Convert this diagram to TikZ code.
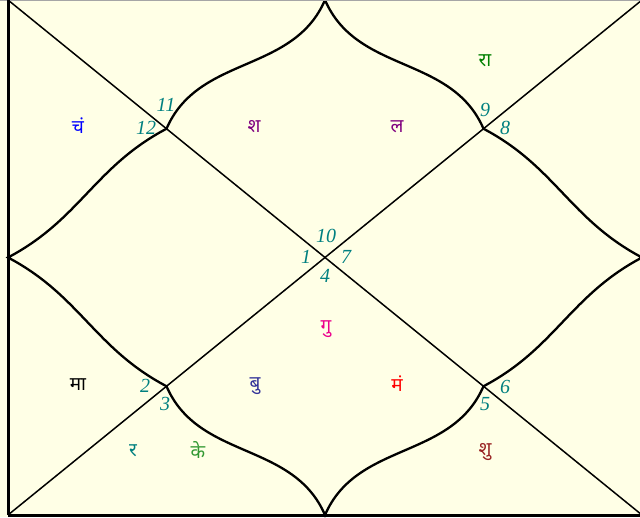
\documentclass[tikz,border=0pt]{standalone}
\usepackage{fontspec}
\setmainfont{Liberation Serif}
\newfontfamily\deva[Script=Devanagari]{Noto Sans}
\usetikzlibrary{calc}
\definecolor{bg}{RGB}{255,255,230}
\definecolor{numc}{RGB}{0,128,128}
\definecolor{purp}{RGB}{128,0,128}
\definecolor{grn}{RGB}{0,128,0}
\definecolor{navyb}{RGB}{51,51,153}
\definecolor{kgreen}{RGB}{51,153,51}
\definecolor{dred}{RGB}{153,34,34}
\tikzset{
  num/.style={font=\fontsize{20}{20}\selectfont\itshape, text=numc, inner sep=0pt},
  graha/.style={font=\deva\fontsize{19}{19}\selectfont, inner sep=0pt},
  curve/.style={line width=2.3pt, black},
  diag/.style={line width=1.5pt, black},
  frame/.style={line width=3pt, black}
}
\begin{document}
\begin{tikzpicture}[x=1pt,y=-1pt]
\useasboundingbox (0,0) rectangle (640,518);
\fill[bg] (0,0) rectangle (640,518);
\fill[white] (0,517) rectangle (640,518);
\begin{scope}
\clip (0,0) rectangle (640,518);
\coordinate (TL) at (8,0);
\coordinate (TR) at (642,0);
\coordinate (BL) at (8,515);
\coordinate (BR) at (642,515);
\coordinate (T) at (325,0);
\coordinate (L) at (8,257.5);
\coordinate (B) at (325,515);
\coordinate (R) at (642,257.5);
\coordinate (Q1) at (166.5,128.75);
\coordinate (Q2) at (483.5,128.75);
\coordinate (Q3) at (166.5,386.25);
\coordinate (Q4) at (483.5,386.25);
% diagonals
\draw[diag] (TL) -- (BR);
\draw[diag] (BL) -- (TR);
% lotus curves
\draw[curve] (Q1) .. controls ($(Q1)+(32,-74)$) and ($(T)+(-32,74)$) .. (T)
  .. controls ($(T)+(32,74)$) and ($(Q2)+(-32,-74)$) .. (Q2)
  .. controls ($(Q2)+(72,38)$) and ($(R)+(-72,-38)$) .. (R)
  .. controls ($(R)+(-72,38)$) and ($(Q4)+(72,-38)$) .. (Q4)
  .. controls ($(Q4)+(-32,74)$) and ($(B)+(32,-74)$) .. (B)
  .. controls ($(B)+(-32,-74)$) and ($(Q3)+(32,74)$) .. (Q3)
  .. controls ($(Q3)+(-72,-38)$) and ($(L)+(72,38)$) .. (L)
  .. controls ($(L)+(72,-38)$) and ($(Q1)+(-72,38)$) .. (Q1);
% frame
\draw[line width=1pt, gray!70] (0,0.5) -- (640,0.5);
\draw[frame] (TL) -- (BL);
\draw[frame] (BL) -- (BR);
\end{scope}
% house numbers
\node[num] (n11) at (166,105) {11};
\node[num] (n12) at (146,128) {12};
\node[num] (n9) at (485,110) {9};
\node[num] (n8) at (505,128) {8};
\node[num] (n10) at (326,236) {10};
\node[num] (n1) at (306,257) {1};
\node[num] (n7) at (346,257) {7};
\node[num] (n4) at (325,276) {4};
\node[num] (n2) at (145,386) {2};
\node[num] (n3) at (165,404) {3};
\node[num] (n6) at (505,387) {6};
\node[num] (n5) at (485,404) {5};
% planets
\node[graha, text=blue] (chan) at (78,126) {चं};
\node[graha, text=purp] (shani) at (254,127) {श};
\node[graha, text=purp] (lagna) at (397,127) {ल};
\node[graha, text=grn] (rahu) at (485,61) {रा};
\node[graha, text=black] (mandi) at (78,385) {मा};
\node[graha, text=navyb] (budh) at (255,386) {बु};
\node[graha, text=red] (mangal) at (397,384) {मं};
\node[graha, text=magenta] (guru) at (326,329) {गु};
\node[graha, text=numc] (ravi) at (133,451) {र};
\node[graha, text=kgreen] (ketu) at (198,450) {के};
\node[graha, text=dred] (shukra) at (485,452) {शु};
\end{tikzpicture}
\end{document}
